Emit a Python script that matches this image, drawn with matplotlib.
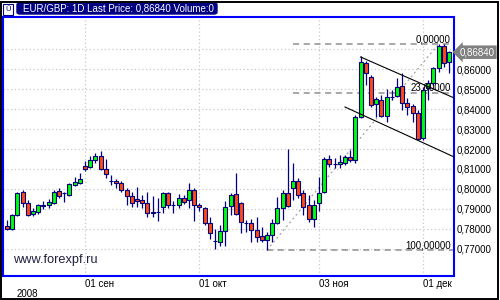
import numpy as np
import pandas as pd
import matplotlib
matplotlib.use('Agg')
import matplotlib.pyplot as plt
import matplotlib.transforms as mtransforms
from matplotlib.patches import FancyBboxPatch, Rectangle
from matplotlib.ticker import FuncFormatter

plt.rcParams['font.family'] = ['Liberation Sans', 'DejaVu Sans']

# datos diarios EUR/GBP (dias habiles desde 11 ago 2008)
dates = pd.bdate_range('2008-08-11', periods=86)
opens = [0.7815, 0.7800, 0.7870, 0.7985, 0.7930, 0.7875, 0.7885, 0.7915, 0.7920, 0.7930,
         0.7990, 0.7980, 0.7970, 0.8020, 0.8030, 0.8115, 0.8110, 0.8145, 0.8165, 0.8100,
         0.8042, 0.8040, 0.8030, 0.7995, 0.7965, 0.7950, 0.7945, 0.7930, 0.7885, 0.7885,
         0.7910, 0.7980, 0.7921, 0.7920, 0.7955, 0.7945, 0.7995, 0.7920, 0.7905, 0.7830,
         0.7741, 0.7735, 0.7790, 0.7915, 0.7975, 0.7930, 0.7831, 0.7830, 0.7795, 0.7765,
         0.7745, 0.7770, 0.7830, 0.7905, 0.7980, 0.8005, 0.8040, 0.7980, 0.7920, 0.7850,
         0.7930, 0.7985, 0.8150, 0.8125, 0.8125, 0.8130, 0.8160, 0.8145, 0.8360, 0.8630,
         0.8560, 0.8425, 0.8445, 0.8365, 0.8460, 0.8465, 0.8515, 0.8430, 0.8415, 0.8380,
         0.8255, 0.8505, 0.8530, 0.8605, 0.8715, 0.8635]
highs = [0.7845, 0.7875, 0.7985, 0.7995, 0.7945, 0.7905, 0.7925, 0.7940, 0.7950, 0.7995,
         0.8005, 0.7985, 0.8030, 0.8060, 0.8080, 0.8140, 0.8165, 0.8180, 0.8190, 0.8150,
         0.8070, 0.8050, 0.8040, 0.8005, 0.7985, 0.8010, 0.7970, 0.7985, 0.7965, 0.7955,
         0.7985, 0.7985, 0.7940, 0.7975, 0.7970, 0.8030, 0.8005, 0.7930, 0.7910, 0.7860,
         0.7800, 0.7820, 0.7940, 0.7980, 0.8080, 0.7935, 0.7845, 0.7850, 0.7860, 0.7810,
         0.7785, 0.7850, 0.7960, 0.7995, 0.8200, 0.8130, 0.8055, 0.7995, 0.7970, 0.7945,
         0.8060, 0.8160, 0.8170, 0.8155, 0.8170, 0.8170, 0.8195, 0.8370, 0.8665, 0.8640,
         0.8570, 0.8460, 0.8470, 0.8500, 0.8495, 0.8555, 0.8580, 0.8455, 0.8425, 0.8395,
         0.8510, 0.8545, 0.8610, 0.8725, 0.8725, 0.8690]
lows = [0.7795, 0.7795, 0.7865, 0.7910, 0.7865, 0.7865, 0.7875, 0.7900, 0.7905, 0.7925,
        0.7955, 0.7935, 0.7965, 0.8015, 0.8025, 0.8090, 0.8105, 0.8130, 0.8095, 0.8055,
        0.8020, 0.8005, 0.7985, 0.7920, 0.7910, 0.7910, 0.7905, 0.7860, 0.7860, 0.7840,
        0.7880, 0.7905, 0.7880, 0.7905, 0.7925, 0.7905, 0.7840, 0.7890, 0.7820, 0.7750,
        0.7700, 0.7715, 0.7715, 0.7870, 0.7870, 0.7780, 0.7785, 0.7735, 0.7735, 0.7735,
        0.7695, 0.7735, 0.7825, 0.7845, 0.7910, 0.7945, 0.7955, 0.7870, 0.7835, 0.7810,
        0.7890, 0.7980, 0.8110, 0.8105, 0.8105, 0.8120, 0.8135, 0.8130, 0.8355, 0.8520,
        0.8410, 0.8360, 0.8360, 0.8335, 0.8445, 0.8460, 0.8395, 0.8370, 0.8335, 0.8245,
        0.8245, 0.8445, 0.8520, 0.8585, 0.8610, 0.8580]
closes = [0.7800, 0.7870, 0.7980, 0.7930, 0.7870, 0.7890, 0.7920, 0.7920, 0.7935, 0.7985,
          0.7965, 0.7982, 0.8025, 0.8035, 0.8050, 0.8100, 0.8145, 0.8165, 0.8100, 0.8075,
          0.8038, 0.8030, 0.7995, 0.7965, 0.7930, 0.7940, 0.7930, 0.7880, 0.7882, 0.7884,
          0.7980, 0.7920, 0.7920, 0.7955, 0.7935, 0.7995, 0.7920, 0.7910, 0.7830, 0.7780,
          0.7740, 0.7790, 0.7910, 0.7970, 0.7875, 0.7835, 0.7830, 0.7795, 0.7760, 0.7745,
          0.7770, 0.7830, 0.7905, 0.7980, 0.7915, 0.8040, 0.7970, 0.7910, 0.7850, 0.7920,
          0.7980, 0.8150, 0.8125, 0.8123, 0.8135, 0.8160, 0.8145, 0.8360, 0.8635, 0.8580,
          0.8420, 0.8450, 0.8365, 0.8460, 0.8462, 0.8510, 0.8430, 0.8410, 0.8380, 0.8250,
          0.8495, 0.8530, 0.8605, 0.8715, 0.8630, 0.8684]

price_ticks = [0.77, 0.78, 0.79, 0.80, 0.81, 0.82, 0.83, 0.84, 0.85, 0.86, 0.87]
date_ticks = ['2008-09-01', '2008-10-01', '2008-11-03', '2008-12-01']
date_labels = ['01 сен', '01 окт', '03 ноя', '01 дек']
last_price = 0.86840

# fibonacci: minimo y maximo (indice de barra, precio)
fib_low = (50, 0.7695)
fib_high = (83, 0.8725)
fib_levels = [0.0, 23.6, 100.0]
fib_start = [55, 55, 50]
# canal de tendencia
upper_line = [(68, 0.8660), (86.0, 0.8455)]
lower_line = [(65, 0.8410), (86.0, 0.8160)]

navy = '#000080'
verde = '#00ff00'
rojo = '#ff4a12'

fig = plt.figure(figsize=(5, 3), dpi=100)
ax = fig.add_axes([3 / 500, 1 - 276 / 300, 451 / 500, 259 / 300])

x = np.arange(len(dates))
o = np.array(opens); c = np.array(closes)
colores = [verde if cc >= oo else rojo for oo, cc in zip(o, c)]
ax.vlines(x, lows, highs, color=navy, linewidth=0.9, zorder=3)
ax.bar(x, np.maximum(np.abs(c - o), 0.00005), bottom=np.minimum(o, c), width=0.75,
       color=colores, edgecolor=navy, linewidth=0.8, zorder=4)

# niveles de fibonacci
rango = fib_high[1] - fib_low[1]
trans = mtransforms.blended_transform_factory(ax.transAxes, ax.transData)
trans_txt = mtransforms.offset_copy(trans, fig=fig, y=2, units='dots')
for nivel, x0 in zip(fib_levels, fib_start):
    p = fib_high[1] - rango * nivel / 100
    ax.plot([x0, 86.0], [p, p], color='#909090', linestyle=(0, (4, 3)), linewidth=1.1, zorder=2)
    ax.text(0.993, p, f'{nivel:.5f}'.replace('.', ','), transform=trans_txt,
            ha='right', va='baseline', fontsize=7, color='black', zorder=6)
ax.plot([fib_low[0], fib_high[0]], [fib_low[1], fib_high[1]], color='#a0a0a0',
        linestyle=(0, (1.5, 2.5)), linewidth=0.9, zorder=2)

for linea in (upper_line, lower_line):
    ax.plot([linea[0][0], linea[1][0]], [linea[0][1], linea[1][1]], color='black',
            linewidth=0.8, zorder=5)

ax.set_xlim(-0.77, 85.96)
ax.set_ylim(0.7565, 0.886)

pos = [dates.get_loc(pd.Timestamp(d)) for d in date_ticks]
ax.set_xticks(pos)
ax.set_xticklabels(date_labels, ha='left', fontsize=7)
for lab in ax.get_xticklabels():
    lab.set_transform(lab.get_transform() + mtransforms.ScaledTranslation(2 / 100, 0, fig.dpi_scale_trans))
ax.set_yticks(price_ticks)
ax.yaxis.set_major_formatter(FuncFormatter(lambda v, _: '' if v > 0.865 else f'{v:.5f}'.replace('.', ',')))
ax.yaxis.tick_right()
ax.tick_params(axis='both', length=0, labelsize=7, colors='black')
ax.tick_params(axis='y', pad=2.2)
ax.tick_params(axis='x', pad=2.5)
ax.grid(True, color='#c8c8c8', linestyle=(0, (1, 2)), linewidth=0.9, zorder=0)
ax.set_axisbelow(True)
for s in ax.spines.values():
    s.set_color('#0000ff')
    s.set_linewidth(1.5)

# etiqueta del ultimo precio
ax.text(1.013, last_price, '0,86840', transform=trans, ha='left', va='center',
        fontsize=7, color='white', zorder=7, clip_on=False,
        bbox=dict(boxstyle='larrow,pad=0.18', fc='#808080', ec='none'))

ax.text(0.022, 0.04, 'www.forexpf.ru', transform=ax.transAxes, fontsize=9.2,
        color='#202040', ha='left', va='bottom')

# cabecera
fig.patches.append(FancyBboxPatch((17 / 500, 1 - 14 / 300), 200 / 500, 11 / 300,
                                  boxstyle='round,pad=0,rounding_size=0.006',
                                  transform=fig.transFigure, fc=navy, ec=navy))
fig.text(23 / 500, 1 - 8.8 / 300, 'EUR/GBP: 1D Last Price: 0,86840 Volume:0',
         color='white', fontsize=7, va='center', ha='left')
fig.patches.append(Rectangle((3 / 500, 1 - 15 / 300), 10 / 500, 11 / 300,
                             transform=fig.transFigure, fc='white', ec=navy, lw=0.8))
fig.text(8 / 500, 1 - 9.5 / 300, 'Ū', color=navy, fontsize=5.5, ha='center', va='center')

fig.text(17 / 500, 1 - 294 / 300, '2008', fontsize=7, va='center', ha='left')
fig.patches.append(Rectangle((1 / 500, 1 / 300), 497 / 500, 297 / 300, transform=fig.transFigure,
                             fill=False, ec='black', lw=1.4))

fig.savefig('out.png', dpi=100)
